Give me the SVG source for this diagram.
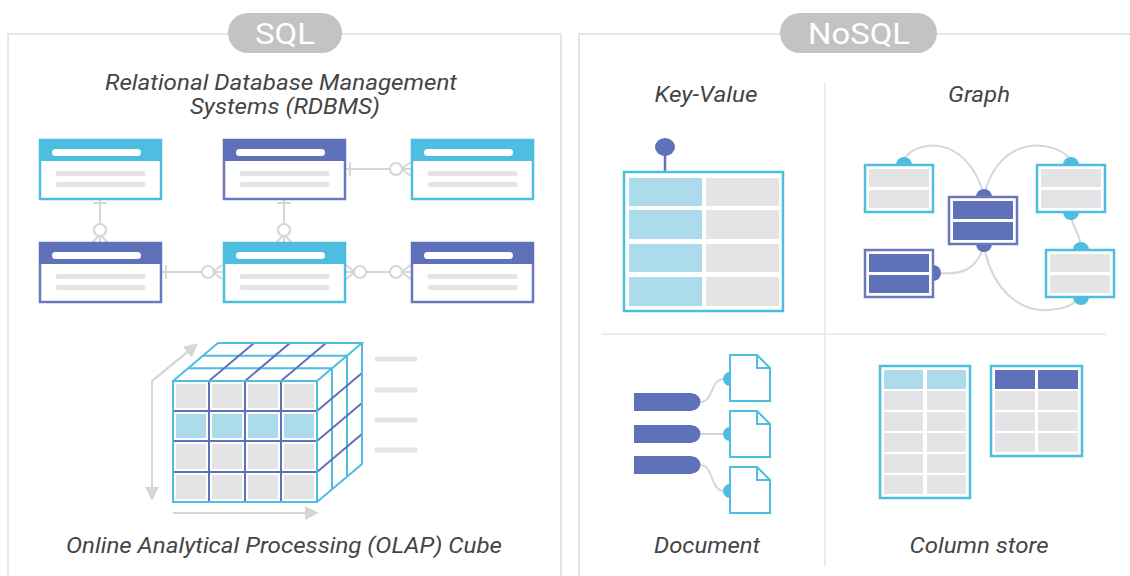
<svg xmlns="http://www.w3.org/2000/svg" xmlns:xlink="http://www.w3.org/1999/xlink" width="1130" height="576" viewBox="0 0 1130 576">
  <style>
    .frame { fill: none; stroke: #e6e6e6; stroke-width: 2; }
    .divider { fill: none; stroke: #ececec; stroke-width: 2; }
    .pill { fill: #c3c3c3; }
    .pill-text { font-family: Roboto, "Liberation Sans", sans-serif; font-size: 29px; fill: #ffffff; text-anchor: middle; }
    .label { font-family: Roboto, "Liberation Sans", sans-serif; font-style: italic; font-size: 22px; fill: #454545; text-anchor: middle; }
    .conn { fill: none; stroke: #d6d6d6; stroke-width: 2; }
    .conn-o { fill: #ffffff; stroke: #d6d6d6; stroke-width: 2; }
    .cyan-line { fill: none; stroke: #4dbde0; stroke-width: 2; }
    .purple-line { fill: none; stroke: #5f71b8; stroke-width: 2; }
    .cyan-box { fill: #ffffff; stroke: #4dbde0; stroke-width: 2.5; }
    .purple-box { fill: #ffffff; stroke: #6a79bd; stroke-width: 2.5; }
    .cyan-fill { fill: #4dbde0; }
    .purple-fill { fill: #5f71b8; }
    .gray-cell { fill: #e4e4e6; }
    .blue-cell { fill: #acdcec; }
    .purple-cell { fill: #5f71b8; }
    .bar-gray { stroke: #e4e4e6; stroke-width: 5; stroke-linecap: round; fill: none; }
    .axis { fill: none; stroke: #d6d6d6; stroke-width: 2; }
  </style>
  <defs>
    <marker id="axis-head" viewBox="0 0 10 10" refX="8" refY="5" markerWidth="7" markerHeight="7" orient="auto">
      <path d="M0,0 L10,5 L0,10 Z" fill="#d6d6d6"/>
    </marker>
    <!-- ER table shapes, 123 x 60 -->
    <g id="er-cyan">
      <rect class="cyan-box" x="1" y="1" width="121" height="59"/>
      <rect class="cyan-fill" x="0" y="0" width="123" height="22"/>
      <rect x="13" y="10" width="89" height="7" rx="3.5" fill="#ffffff"/>
      <line class="bar-gray" x1="19" y1="34.5" x2="104" y2="34.5"/>
      <line class="bar-gray" x1="19" y1="45.5" x2="104" y2="45.5"/>
    </g>
    <g id="er-purple">
      <rect class="purple-box" x="1" y="1" width="121" height="59"/>
      <rect class="purple-fill" x="0" y="0" width="123" height="22"/>
      <rect x="13" y="10" width="89" height="7" rx="3.5" fill="#ffffff"/>
      <line class="bar-gray" x1="19" y1="34.5" x2="104" y2="34.5"/>
      <line class="bar-gray" x1="19" y1="45.5" x2="104" y2="45.5"/>
    </g>
    <!-- graph node shapes, 68 x 47 -->
    <g id="gn-cyan">
      <rect class="cyan-box" x="0" y="0" width="68" height="47"/>
      <rect class="gray-cell" x="4" y="4" width="60" height="18"/>
      <rect class="gray-cell" x="4" y="25" width="60" height="18"/>
    </g>
    <g id="gn-purple">
      <rect class="purple-box" x="0" y="0" width="68" height="47"/>
      <rect class="purple-cell" x="4" y="4" width="60" height="18"/>
      <rect class="purple-cell" x="4" y="25" width="60" height="18"/>
    </g>
    <!-- document page with folded corner, 40 x 46 -->
    <g id="doc-page">
      <path d="M0,0 H27 L40,13 V46 H0 Z" fill="#ffffff" stroke="#4dbde0" stroke-width="2"/>
      <path d="M27,0 V13 H40" fill="none" stroke="#4dbde0" stroke-width="2"/>
    </g>
  </defs>

  <!-- section frames -->
  <g id="frames">
    <path class="frame" d="M8,576 V34 H561 V576"/>
    <path class="frame" d="M579,576 V34 H1130"/>
    <line class="divider" x1="825" y1="83" x2="825" y2="566"/>
    <line class="divider" x1="602" y1="334" x2="1106" y2="334"/>
  </g>

  <g id="pill-sql">
    <rect class="pill" x="228" y="13" width="114" height="40" rx="20"/>
    <text class="pill-text" x="285" y="44" textLength="60" lengthAdjust="spacingAndGlyphs">SQL</text>
  </g>
  <g id="pill-nosql">
    <rect class="pill" x="780" y="13" width="157" height="40" rx="20"/>
    <text class="pill-text" x="859" y="44" textLength="102" lengthAdjust="spacingAndGlyphs">NoSQL</text>
  </g>

  <!-- labels -->
  <g id="labels">
    <text class="label" x="281" y="90" textLength="352" lengthAdjust="spacingAndGlyphs">Relational Database Management</text>
    <text class="label" x="285" y="114" textLength="190" lengthAdjust="spacingAndGlyphs">Systems (RDBMS)</text>
    <text class="label" x="284" y="553" textLength="436" lengthAdjust="spacingAndGlyphs">Online Analytical Processing (OLAP) Cube</text>
    <text class="label" x="706" y="102" textLength="103" lengthAdjust="spacingAndGlyphs">Key-Value</text>
    <text class="label" x="979" y="102" textLength="62" lengthAdjust="spacingAndGlyphs">Graph</text>
    <text class="label" x="707" y="553" textLength="106" lengthAdjust="spacingAndGlyphs">Document</text>
    <text class="label" x="979" y="553" textLength="139" lengthAdjust="spacingAndGlyphs">Column store</text>
  </g>

  <!-- ER relationship connectors -->
  <g id="er-connectors">
    <!-- A to D -->
    <line class="conn" x1="100" y1="200" x2="100" y2="242"/>
    <line class="conn" x1="93" y1="203" x2="107" y2="203"/>
    <path class="conn" d="M100,234 L93,242 M100,234 L107,242"/>
    <circle class="conn-o" cx="100" cy="230" r="6"/>
    <!-- B to E -->
    <line class="conn" x1="284" y1="200" x2="284" y2="242"/>
    <line class="conn" x1="277" y1="203" x2="291" y2="203"/>
    <path class="conn" d="M284,234 L277,242 M284,234 L291,242"/>
    <circle class="conn-o" cx="284" cy="230" r="6"/>
    <!-- B to C -->
    <line class="conn" x1="346" y1="169" x2="411" y2="169"/>
    <line class="conn" x1="350" y1="162" x2="350" y2="176"/>
    <path class="conn" d="M401,169 L411,162 M401,169 L411,176"/>
    <circle class="conn-o" cx="396" cy="169" r="6"/>
    <!-- D to E -->
    <line class="conn" x1="162" y1="272" x2="222" y2="272"/>
    <line class="conn" x1="166" y1="265" x2="166" y2="279"/>
    <path class="conn" d="M213,272 L222,265 M213,272 L222,279"/>
    <circle class="conn-o" cx="208" cy="272" r="6"/>
    <!-- E to F -->
    <line class="conn" x1="346" y1="272" x2="411" y2="272"/>
    <path class="conn" d="M355,272 L346,265 M355,272 L346,279"/>
    <circle class="conn-o" cx="360" cy="272" r="6"/>
    <path class="conn" d="M401,272 L411,265 M401,272 L411,279"/>
    <circle class="conn-o" cx="396" cy="272" r="6"/>
  </g>

  <!-- ER tables -->
  <g id="tbl-a" transform="translate(39,139)"><use xlink:href="#er-cyan"/></g>
  <g id="tbl-b" transform="translate(223,139)"><use xlink:href="#er-purple"/></g>
  <g id="tbl-c" transform="translate(411,139)"><use xlink:href="#er-cyan"/></g>
  <g id="tbl-d" transform="translate(39,242)"><use xlink:href="#er-purple"/></g>
  <g id="tbl-e" transform="translate(223,242)"><use xlink:href="#er-cyan"/></g>
  <g id="tbl-f" transform="translate(411,242)"><use xlink:href="#er-purple"/></g>

  <!-- OLAP cube -->
  <g id="olap-cube">
    <!-- axes -->
    <polyline class="axis" points="196,345 152,381 152,498" marker-end="url(#axis-head)"/>
    <line class="axis" x1="152" y1="381" x2="196" y2="345" marker-end="url(#axis-head)"/>
    <line class="axis" x1="173" y1="513" x2="316" y2="513" marker-end="url(#axis-head)"/>
    <!-- front cells -->
    <g class="gray-cell">
      <rect x="176" y="384" width="30" height="24"/><rect x="212" y="384" width="30" height="24"/><rect x="248" y="384" width="30" height="24"/><rect x="284" y="384" width="30" height="24"/>
      <rect x="176" y="444" width="30" height="25"/><rect x="212" y="444" width="30" height="25"/><rect x="248" y="444" width="30" height="25"/><rect x="284" y="444" width="30" height="25"/>
      <rect x="176" y="475" width="30" height="24"/><rect x="212" y="475" width="30" height="24"/><rect x="248" y="475" width="30" height="24"/><rect x="284" y="475" width="30" height="24"/>
    </g>
    <g class="blue-cell">
      <rect x="176" y="414" width="30" height="24"/><rect x="212" y="414" width="30" height="24"/><rect x="248" y="414" width="30" height="24"/><rect x="284" y="414" width="30" height="24"/>
    </g>
    <!-- top face -->
    <path class="cyan-line" d="M188,368.3 H332 M203,355.7 H347"/>
    <path class="purple-line" d="M209,381 L254,343 M245,381 L290,343 M281,381 L326,343"/>
    <!-- right face -->
    <path class="cyan-line" d="M332,368.3 V489.3 M347,355.7 V476.7"/>
    <path class="purple-line" d="M317,411 L362,373 M317,441 L362,403 M317,472 L362,434"/>
    <!-- front inner grid -->
    <path class="purple-line" d="M209,381 V502 M245,381 V502 M281,381 V502 M173,411 H317 M173,441 H317 M173,472 H317"/>
    <!-- outer edges -->
    <path class="cyan-line" d="M173,381 H317 V502 H173 Z M173,381 L218,343 H362 L317,381 M362,343 V464 L317,502"/>
    <!-- legend bars -->
    <path class="bar-gray" d="M377,359 H415 M377,390 H415 M377,420 H415 M377,450 H415"/>
  </g>

  <!-- key-value store -->
  <g id="kv-store">
    <line x1="665" y1="155" x2="665" y2="172" stroke="#5f71b8" stroke-width="2.5"/>
    <ellipse cx="665" cy="147" rx="10" ry="9" class="purple-fill"/>
    <rect class="cyan-box" x="624" y="172" width="159" height="139"/>
    <g class="blue-cell">
      <rect x="629" y="178" width="73" height="28"/><rect x="629" y="210" width="73" height="29"/>
      <rect x="629" y="244" width="73" height="28"/><rect x="629" y="277" width="73" height="29"/>
    </g>
    <g class="gray-cell">
      <rect x="706" y="178" width="73" height="28"/><rect x="706" y="210" width="73" height="29"/>
      <rect x="706" y="244" width="73" height="28"/><rect x="706" y="277" width="73" height="29"/>
    </g>
  </g>

  <!-- graph edges -->
  <g id="graph-edges">
    <path class="conn" d="M904,160 C914,140 966,132 984,195"/>
    <path class="conn" d="M984,195 C1000,132 1056,140 1071,160"/>
    <path class="conn" d="M1071,214 C1071,228 1082,234 1081,250"/>
    <path class="conn" d="M938,273 C962,275 976,270 984,246"/>
    <path class="conn" d="M984,246 C992,290 1020,312 1048,310 C1062,309 1074,306 1080,297"/>
  </g>

  <!-- graph nodes -->
  <g id="gnode-1">
    <circle class="cyan-fill" cx="904" cy="165" r="8"/>
    <use xlink:href="#gn-cyan" x="865" y="165"/>
  </g>
  <g id="gnode-2">
    <circle class="purple-fill" cx="984" cy="197" r="8"/>
    <circle class="purple-fill" cx="984" cy="244" r="8"/>
    <use xlink:href="#gn-purple" x="949" y="197"/>
  </g>
  <g id="gnode-3">
    <circle class="cyan-fill" cx="1071" cy="165" r="8"/>
    <circle class="cyan-fill" cx="1071" cy="212" r="8"/>
    <use xlink:href="#gn-cyan" x="1037" y="165"/>
  </g>
  <g id="gnode-4">
    <circle class="purple-fill" cx="933" cy="273" r="8"/>
    <use xlink:href="#gn-purple" x="865" y="250"/>
  </g>
  <g id="gnode-5">
    <circle class="cyan-fill" cx="1081" cy="250" r="8"/>
    <circle class="cyan-fill" cx="1081" cy="297" r="8"/>
    <use xlink:href="#gn-cyan" x="1046" y="250"/>
  </g>

  <!-- document store links -->
  <g id="doc-links">
    <path class="conn" d="M700,402 C714,402 710,379 724,379"/>
    <path class="conn" d="M700,434 H724"/>
    <path class="conn" d="M700,465 C714,465 710,491 724,491"/>
  </g>
  <g id="doc-key-1">
    <rect class="purple-fill" x="634" y="393" width="58" height="18"/>
    <circle class="purple-fill" cx="692" cy="402" r="8.5"/>
  </g>
  <g id="doc-key-2">
    <rect class="purple-fill" x="634" y="425" width="58" height="18"/>
    <circle class="purple-fill" cx="692" cy="434" r="8.5"/>
  </g>
  <g id="doc-key-3">
    <rect class="purple-fill" x="634" y="456" width="58" height="18"/>
    <circle class="purple-fill" cx="692" cy="465" r="8.5"/>
  </g>
  <g id="doc-1">
    <circle class="cyan-fill" cx="730" cy="379" r="7"/>
    <use xlink:href="#doc-page" x="730" y="355"/>
  </g>
  <g id="doc-2">
    <circle class="cyan-fill" cx="730" cy="434" r="7"/>
    <use xlink:href="#doc-page" x="730" y="411"/>
  </g>
  <g id="doc-3">
    <circle class="cyan-fill" cx="730" cy="491" r="7"/>
    <use xlink:href="#doc-page" x="730" y="467"/>
  </g>

  <!-- column stores -->
  <g id="col-table-1">
    <rect class="cyan-box" x="880" y="366" width="90" height="132"/>
    <rect class="blue-cell" x="884" y="370" width="39" height="19"/>
    <rect class="blue-cell" x="927" y="370" width="39" height="19"/>
    <g class="gray-cell">
      <rect x="884" y="391" width="39" height="19"/><rect x="927" y="391" width="39" height="19"/>
      <rect x="884" y="412" width="39" height="19"/><rect x="927" y="412" width="39" height="19"/>
      <rect x="884" y="433" width="39" height="19"/><rect x="927" y="433" width="39" height="19"/>
      <rect x="884" y="454" width="39" height="19"/><rect x="927" y="454" width="39" height="19"/>
      <rect x="884" y="475" width="39" height="19"/><rect x="927" y="475" width="39" height="19"/>
    </g>
  </g>
  <g id="col-table-2">
    <rect class="cyan-box" x="991" y="366" width="91" height="90"/>
    <rect class="purple-cell" x="995" y="370" width="40" height="19"/>
    <rect class="purple-cell" x="1038" y="370" width="40" height="19"/>
    <g class="gray-cell">
      <rect x="995" y="391" width="40" height="19"/><rect x="1038" y="391" width="40" height="19"/>
      <rect x="995" y="412" width="40" height="19"/><rect x="1038" y="412" width="40" height="19"/>
      <rect x="995" y="433" width="40" height="19"/><rect x="1038" y="433" width="40" height="19"/>
    </g>
  </g>
</svg>
